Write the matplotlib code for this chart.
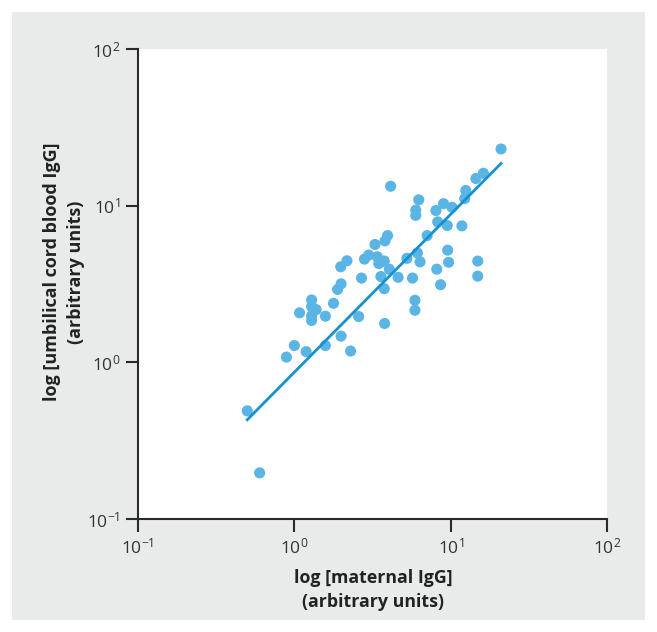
import matplotlib
matplotlib.use('Agg')
import matplotlib.pyplot as plt
from matplotlib.patches import Rectangle
import numpy as np

# maternal IgG vs umbilical cord blood IgG (arbitrary units)
maternal = [0.5, 0.6, 0.89, 1.0, 1.19, 1.08, 1.29, 1.29, 1.38, 1.29, 1.29, 1.58, 1.58,
            1.78, 1.89, 1.99, 1.98, 2.17, 1.99, 2.29, 2.58, 2.69, 2.81, 2.99, 3.28, 3.39,
            3.47, 3.58, 3.76, 3.8, 3.95, 3.76, 3.78, 4.05, 4.13, 4.61, 5.25, 5.7, 5.91,
            5.91, 6.13, 6.37, 5.98, 5.98, 6.25, 7.07, 8.05, 8.26, 8.15, 8.62, 9.0, 9.51,
            9.57, 9.7, 10.2, 11.8, 12.3, 12.5, 14.5, 16.2, 14.9, 14.9, 21.0]
cord = [0.49, 0.197, 1.08, 1.28, 1.17, 2.07, 2.5, 2.27, 2.17, 1.98, 1.85, 1.97, 1.28,
        2.38, 2.92, 3.17, 4.07, 4.45, 1.47, 1.18, 1.96, 3.45, 4.56, 4.84, 5.65, 4.72,
        4.27, 3.53, 4.43, 5.96, 6.44, 2.95, 1.77, 3.93, 13.3, 3.49, 4.61, 3.45, 2.49,
        2.15, 4.99, 4.38, 9.37, 8.67, 10.9, 6.44, 9.31, 7.88, 3.93, 3.13, 10.3, 7.47,
        5.2, 4.35, 9.77, 7.43, 11.1, 12.5, 14.9, 16.1, 4.43, 3.55, 23.0]

# regression line end points
fit_x = [0.5, 21.0]
fit_y = [0.43, 18.6]

fig = plt.figure(figsize=(6.57, 6.32), dpi=100)
fig.patch.set_facecolor('white')
fig.patches.append(Rectangle((12 / 657, 12 / 632), 633 / 657, 608 / 632,
                             transform=fig.transFigure, facecolor='#e9ebea',
                             edgecolor='none', zorder=-10))

ax = fig.add_axes([138 / 657, 1 - 519 / 632, 469 / 657, 470 / 632])
ax.set_zorder(5)
ax.set_facecolor('white')
ax.set_xscale('log')
ax.set_yscale('log')
ax.set_xlim(0.1, 100)
ax.set_ylim(0.1, 100)

ax.scatter(maternal, cord, s=64, color='#5ab5e5', edgecolors='none', zorder=3, clip_on=False)
ax.plot(fit_x, fit_y, color='#1591d2', linewidth=2, zorder=4)

for side in ['top', 'right']:
    ax.spines[side].set_visible(False)
for side in ['left', 'bottom']:
    ax.spines[side].set_color('#2a2a2a')
    ax.spines[side].set_linewidth(1.5)

ax.minorticks_off()
ax.set_xticks([0.1, 1, 10, 100])
ax.set_yticks([0.1, 1, 10, 100])
ax.set_xticklabels([r'$\mathregular{10^{-1}}$', r'$\mathregular{10^{0}}$',
                    r'$\mathregular{10^{1}}$', r'$\mathregular{10^{2}}$'])
ax.set_yticklabels([r'$\mathregular{10^{-1}}$', r'$\mathregular{10^{0}}$',
                    r'$\mathregular{10^{1}}$', r'$\mathregular{10^{2}}$'])
ax.tick_params(direction='out', length=9, width=1.5, color='#2a2a2a',
               labelsize=12.5, labelcolor='#333333', pad=4)
for lab in ax.get_xticklabels() + ax.get_yticklabels():
    lab.set_family('Open Sans')

fig.text(373 / 657, 1 - 590 / 632, 'log [maternal IgG]\n(arbitrary units)',
         ha='center', va='center', fontsize=12.8, fontweight='bold',
         family='Open Sans', color='#222222', linespacing=1.45)
fig.text(64 / 657, 1 - 272 / 632, 'log [umbilical cord blood IgG]\n(arbitrary units)',
         ha='center', va='center', rotation=90, fontsize=13, fontweight='bold',
         family='Open Sans', color='#222222', linespacing=1.45)

fig.savefig('out.png', dpi=100)
